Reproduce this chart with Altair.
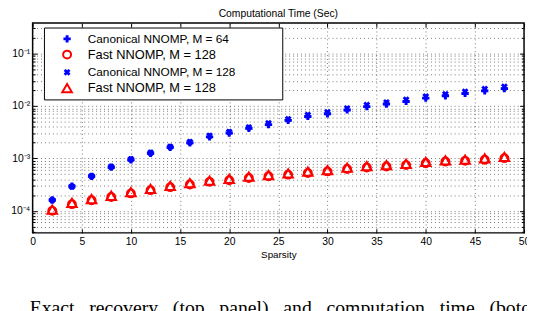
import altair as alt
import pandas as pd

# ---------------- data ----------------
sparsity = [2, 4, 6, 8, 10, 12, 14, 16, 18, 20, 22, 24,
            26, 28, 30, 32, 34, 36, 38, 40, 42, 44, 46, 48]
canon64 = [1.61e-4, 2.95e-4, 4.55e-4, 6.8e-4, 9.4e-4, 1.25e-3, 1.62e-3, 1.98e-3,
           2.57e-3, 3.05e-3, 3.74e-3, 4.4e-3, 5.3e-3, 6.3e-3, 7.1e-3, 8.4e-3,
           9.7e-3, 1.09e-2, 1.22e-2, 1.41e-2, 1.56e-2, 1.73e-2, 1.94e-2, 2.14e-2]
canon128 = [1.6e-4, 2.9e-4, 4.6e-4, 6.9e-4, 9.6e-4, 1.28e-3, 1.66e-3, 2.05e-3,
            2.7e-3, 3.2e-3, 3.9e-3, 4.7e-3, 5.6e-3, 6.7e-3, 7.6e-3, 9.0e-3,
            1.04e-2, 1.17e-2, 1.32e-2, 1.52e-2, 1.68e-2, 1.87e-2, 2.1e-2, 2.32e-2]
fast_circle = [1.0e-4, 1.34e-4, 1.59e-4, 1.83e-4, 2.15e-4, 2.48e-4, 2.83e-4, 3.18e-4,
               3.57e-4, 3.83e-4, 4.24e-4, 4.55e-4, 4.9e-4, 5.27e-4, 5.65e-4, 6.26e-4,
               6.72e-4, 7.0e-4, 7.45e-4, 8.1e-4, 8.7e-4, 8.97e-4, 9.4e-4, 1.01e-3]
fast_triangle = [1.06e-4, 1.42e-4, 1.68e-4, 1.94e-4, 2.28e-4, 2.63e-4, 3.0e-4, 3.37e-4,
                 3.78e-4, 4.06e-4, 4.5e-4, 4.82e-4, 5.2e-4, 5.58e-4, 5.99e-4, 6.64e-4,
                 7.12e-4, 7.42e-4, 7.9e-4, 8.6e-4, 9.2e-4, 9.5e-4, 9.96e-4, 1.07e-3]

legend_labels = ["Canonical NNOMP, M = 64", "Fast NNOMP, M = 128",
                 "Canonical NNOMP, M = 128", "Fast NNOMP, M = 128"]
x_ticks = [0, 5, 10, 15, 20, 25, 30, 35, 40, 45, 50]
y_ticks = [k * 10.0 ** e for e in range(-5, 0) for k in range(1, 10)
           if 3.8e-5 <= k * 10.0 ** e <= 0.38]
title_text = "Computational Time (Sec)"
x_title = "Sparsity"
caption_words = ["Exact", "recovery", "(top", "panel)", "and", "computation", "time", "(botom"]

BLUE = "#0000ff"
RED = "#ff0000"
FONT = "Liberation Sans"
W, H = 499, 213

xscale = alt.Scale(domain=[0, 50], nice=False, zero=False)
yscale = alt.Scale(type="log", domain=[3.8e-5, 0.38], nice=False)

is_decade = "abs(log(datum.value)/LN10 - round(log(datum.value)/LN10)) < 0.001"
label_expr = (is_decade + " ? '10' + ['\u2070','\u207b\u00b9','\u207b\u00b2','\u207b\u00b3','\u207b\u2074','\u207b\u2075']"
              "[-round(log(datum.value)/LN10)] : ''")


def frame(vals):
    return pd.DataFrame({"sparsity": sparsity, "value": vals})


# main axes (labels + dotted grid)
x_main = alt.Axis(values=x_ticks, ticks=False, grid=True, labelPadding=4,
                  labelFlush=False, labelOverlap=False, title=x_title, titlePadding=3,
                  domain=False)
y_main = alt.Axis(values=y_ticks, ticks=False, grid=True, labelExpr=label_expr,
                  labelPadding=3, labelOverlap=False, labelFlush=False, title=None,
                  domain=False, labelFontSize=10.5)

tick_common = dict(labels=False, grid=False, domain=False, title=None)
x_in_bottom = alt.Axis(orient="top", offset=-H, values=x_ticks, tickSize=4, **tick_common)
x_in_top = alt.Axis(orient="bottom", offset=-H, values=x_ticks, tickSize=4, **tick_common)
ysize = {"condition": {"test": is_decade, "value": 4.5}, "value": 2.5}
y_in_left = alt.Axis(orient="right", offset=-W, values=y_ticks, tickSize=ysize, **tick_common)
y_in_right = alt.Axis(orient="left", offset=-W, values=y_ticks, tickSize=ysize, **tick_common)

plus_style = dict(shape="cross", filled=True, color=BLUE, size=55, strokeWidth=0, opacity=1)
circle_style = dict(shape="circle", filled=False, color=RED, size=65, strokeWidth=2, opacity=1)
xmark_style = dict(shape="cross", angle=45, filled=True, color=BLUE, size=50, strokeWidth=0, opacity=1)
tri_style = dict(shape="triangle-up", filled=False, color=RED, size=95, strokeWidth=2, opacity=1)

plus_layer = alt.Chart(frame(canon64)).mark_point(**plus_style).encode(
    x=alt.X("sparsity:Q", scale=xscale, axis=x_main),
    y=alt.Y("value:Q", scale=yscale, axis=y_main),
)
circle_layer = alt.Chart(frame(fast_circle)).mark_point(**circle_style).encode(
    x=alt.X("sparsity:Q", scale=xscale, axis=x_in_bottom),
    y=alt.Y("value:Q", scale=yscale, axis=y_in_left),
)
xmark_layer = alt.Chart(frame(canon128)).mark_point(**xmark_style).encode(
    x=alt.X("sparsity:Q", scale=xscale, axis=x_in_top),
    y=alt.Y("value:Q", scale=yscale, axis=y_in_right),
)
tri_layer = alt.Chart(frame(fast_triangle)).mark_point(**tri_style).encode(
    x=alt.X("sparsity:Q", scale=xscale, axis=None),
    y=alt.Y("value:Q", scale=yscale, axis=None),
)

# ---------------- legend (decoration) ----------------
one = alt.Chart(pd.DataFrame({"k": [0]}))
legend_box = one.mark_rect(fill="white", stroke="black", strokeWidth=1).encode(
    x=alt.value(12), x2=alt.value(254), y=alt.value(5), y2=alt.value(78))
row_y = [16, 32, 50, 66]
styles = [plus_style, circle_style, xmark_style, tri_style]
sizes = [12, 13, 12, 13]
legend_layers = [legend_box]
for lab, st, yy, fs in zip(legend_labels, styles, row_y, sizes):
    legend_layers.append(one.mark_point(**st).encode(x=alt.value(35), y=alt.value(yy)))
    legend_layers.append(one.mark_text(align="left", baseline="middle", font=FONT,
                                       fontSize=fs, color="black", text=lab).encode(
        x=alt.value(56), y=alt.value(yy)))

# ---------------- caption (cut off by the picture edge) ----------------
gap = "\u00a0\u00a0\u00a0"
caption = one.mark_text(align="left", baseline="alphabetic", font="Liberation Serif",
                        fontSize=20, color="black", text=gap.join(caption_words)).encode(
    x=alt.value(-3), y=alt.value(295))

chart = alt.layer(plus_layer, circle_layer, xmark_layer, tri_layer, *legend_layers, caption).resolve_axis(
    x="independent", y="independent"
).properties(
    width=W, height=H,
    autosize=alt.AutoSizeParams(type="none"),
    padding={"left": 25, "top": 13, "right": 3, "bottom": 77},
    title=alt.TitleParams(title_text, font=FONT, fontSize=10.5, fontWeight="normal",
                          color="black", anchor="middle", offset=3),
).configure_view(
    stroke="black", strokeWidth=1.5
).configure_axis(
    labelFont=FONT, titleFont=FONT, labelFontSize=10.5, titleFontSize=10,
    labelColor="black", titleColor="black", titleFontWeight="normal",
    gridColor="#444444", gridDash=[1, 3], gridWidth=0.8, gridOpacity=0.9,
    tickColor="black", tickWidth=1
)

chart.save("out.html", embed_options={"renderer": "svg", "actions": False})
